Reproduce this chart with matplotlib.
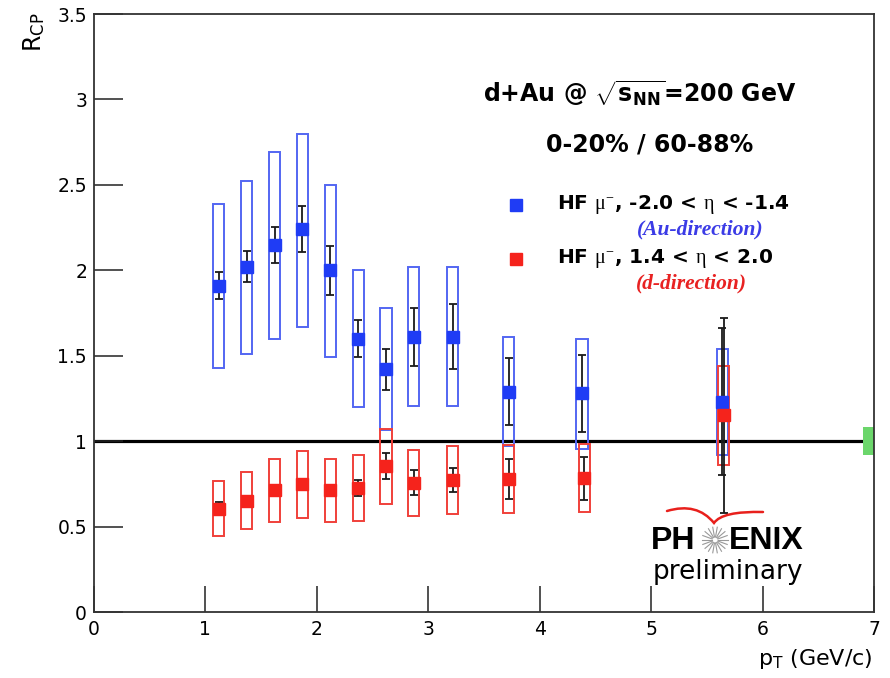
import matplotlib
matplotlib.use("Agg")
import matplotlib.pyplot as plt
from matplotlib.lines import Line2D
from matplotlib.path import Path
from matplotlib.patches import PathPatch
import numpy as np

plt.rcParams['font.family'] = ['DejaVu Sans']
plt.rcParams['mathtext.fontset'] = 'custom'
plt.rcParams['mathtext.rm'] = 'Liberation Serif'
plt.rcParams['mathtext.it'] = 'Liberation Serif:italic'
plt.rcParams['mathtext.bf'] = 'DejaVu Sans:bold'
plt.rcParams['mathtext.sf'] = 'DejaVu Sans'
plt.rcParams['mathtext.default'] = 'rm'

# ---------------- data ----------------
blue_pt = [1.12, 1.37, 1.62, 1.87, 2.12, 2.37, 2.62, 2.87, 3.22, 3.72, 4.38, 5.64]
blue_rcp = [1.91, 2.02, 2.15, 2.24, 2.00, 1.60, 1.42, 1.61, 1.61, 1.29, 1.28, 1.23]
blue_stat = [0.08, 0.09, 0.105, 0.135, 0.145, 0.11, 0.12, 0.17, 0.19, 0.195, 0.225, 0.43]
blue_sys_lo = [1.43, 1.51, 1.60, 1.67, 1.49, 1.20, 1.065, 1.205, 1.205, 0.973, 0.955, 0.919]
blue_sys_hi = [2.39, 2.52, 2.69, 2.80, 2.50, 2.00, 1.78, 2.02, 2.02, 1.61, 1.60, 1.54]

red_pt = [1.12, 1.37, 1.62, 1.87, 2.12, 2.37, 2.62, 2.87, 3.22, 3.72, 4.40, 5.65]
red_rcp = [0.605, 0.652, 0.712, 0.747, 0.712, 0.726, 0.853, 0.757, 0.772, 0.778, 0.782, 1.151]
red_stat = [0.04, 0.02, 0.02, 0.02, 0.02, 0.046, 0.077, 0.074, 0.07, 0.117, 0.128, 0.57]
red_sys_lo = [0.447, 0.484, 0.525, 0.55, 0.525, 0.532, 0.63, 0.562, 0.573, 0.577, 0.583, 0.86]
red_sys_hi = [0.765, 0.82, 0.897, 0.94, 0.897, 0.917, 1.07, 0.95, 0.97, 0.979, 0.981, 1.44]

norm_pt = [6.95]
norm_unc = [0.083]

x_ticks = [0, 1, 2, 3, 4, 5, 6, 7]
y_ticks = [0, 0.5, 1, 1.5, 2, 2.5, 3, 3.5]
y_ticklabels = ['0', '0.5', '1', '1.5', '2', '2.5', '3', '3.5']

BLUE = '#1f3cf5'
BLUE_BOX = '#5366f2'
RED = '#f5231c'
RED_BOX = '#f0403a'

W, H = 890, 678
def px(x, y):
    return (x / W, 1 - y / H)

fig = plt.figure(figsize=(8.9, 6.78), dpi=100)
ax = fig.add_axes([94 / W, 1 - 612 / H, (874 - 94) / W, (612 - 14) / H])
ax.set_xlim(0, 7)
ax.set_ylim(0, 3.5)

# systematic boxes
ax.bar(blue_pt, np.array(blue_sys_hi) - np.array(blue_sys_lo), bottom=blue_sys_lo,
       width=0.1, fill=False, edgecolor=BLUE_BOX, linewidth=1.4, zorder=2)
ax.bar(red_pt, np.array(red_sys_hi) - np.array(red_sys_lo), bottom=red_sys_lo,
       width=0.1, fill=False, edgecolor=RED_BOX, linewidth=1.4, zorder=2)

# normalization box
ax.bar(norm_pt, [2 * u for u in norm_unc], bottom=[1 - u for u in norm_unc],
       width=0.1, color='#6bd66b', edgecolor='none', zorder=2)

ax.axhline(1, color='black', lw=2.3, zorder=1.5)

# stat errors
ax.errorbar(blue_pt, blue_rcp, yerr=blue_stat, fmt='none', ecolor='#1a1a1a',
            elinewidth=1.3, capsize=3, capthick=1.3, zorder=3)
ax.errorbar(red_pt, red_rcp, yerr=red_stat, fmt='none', ecolor='#1a1a1a',
            elinewidth=1.3, capsize=3, capthick=1.3, zorder=3)

ax.plot(blue_pt, blue_rcp, 's', ms=8.5, color=BLUE, mec=BLUE, zorder=4)
ax.plot(red_pt, red_rcp, 's', ms=8.5, color=RED, mec=RED, zorder=4)

# axes styling
ax.set_xticks(x_ticks)
ax.set_yticks(y_ticks)
ax.set_yticklabels(y_ticklabels)
ax.tick_params(axis='both', direction='in', top=False, right=False,
               labelsize=13.5, width=1.1, color='#222222')
ax.tick_params(axis='x', length=19, pad=6)
ax.tick_params(axis='y', length=21, pad=5)
for s in ax.spines.values():
    s.set_linewidth(1.3)
    s.set_color('#333333')

# axis labels
fig.text(*px(34, 12), r'R$_\mathsf{CP}$', rotation=90, ha='center', va='top', fontsize=17)
fig.text(*px(873, 659), r'p$_\mathsf{T}$ (GeV/c)', ha='right', va='center', fontsize=16)

# titles
fig.text(*px(640, 93), r'd+Au @ $\sqrt{\mathbf{s_{NN}}}$=200 GeV', ha='center', va='center',
         fontsize=17, fontweight='bold')
fig.text(*px(650, 145), '0-20% / 60-88%', ha='center', va='center',
         fontsize=17, fontweight='bold')

# legend
fig.add_artist(Line2D([516 / W], [1 - 205 / H], marker='s', ms=8.5, color=BLUE,
                      transform=fig.transFigure))
fig.add_artist(Line2D([516 / W], [1 - 259 / H], marker='s', ms=8.5, color=RED,
                      transform=fig.transFigure))
fig.text(*px(557, 205), r'HF $\mu^{-}$, -2.0 < $\eta$ < -1.4', ha='left', va='center',
         fontsize=14.5, fontweight='bold')
fig.text(*px(557, 259), r'HF $\mu^{-}$, 1.4 < $\eta$ < 2.0', ha='left', va='center',
         fontsize=14.5, fontweight='bold')
fig.text(*px(700, 229), '(Au-direction)', ha='center', va='center', fontsize=15.5,
         family='Liberation Serif', style='italic', fontweight='bold', color='#3b3be6')
fig.text(*px(691, 283), '(d-direction)', ha='center', va='center', fontsize=15.5,
         family='Liberation Serif', style='italic', fontweight='bold', color='#e82222')

# PHENIX logo
fig.text(*px(651, 541), 'PH', ha='left', va='center', fontsize=23, fontweight='bold',
         family='Liberation Sans')
fig.text(*px(729, 541), 'ENIX', ha='left', va='center', fontsize=23, fontweight='bold',
         family='Liberation Sans')
cx, cy = 715, 540
for a in np.linspace(0, np.pi, 9, endpoint=False):
    dx, dy = np.cos(a), np.sin(a)
    for sgn in (1, -1):
        x0, y0 = px(cx + sgn * 3 * dx, cy + sgn * 3 * dy)
        x1, y1 = px(cx + sgn * 13 * dx, cy + sgn * 13 * dy)
        fig.add_artist(Line2D([x0, x1], [y0, y1], color='#999999', lw=0.8,
                              transform=fig.transFigure))
sw = Path([px(667, 511), px(697, 502), px(714, 523), px(722, 511), px(763, 512)],
          [Path.MOVETO, Path.CURVE3, Path.CURVE3, Path.CURVE3, Path.CURVE3])
fig.add_artist(PathPatch(sw, transform=fig.transFigure, fill=False, edgecolor='#e8201c',
                         lw=1.8, capstyle='round'))
fig.text(*px(728, 572), 'preliminary', ha='center', va='center', fontsize=19,
         family='DejaVu Sans')

fig.savefig('out.png', dpi=100)
